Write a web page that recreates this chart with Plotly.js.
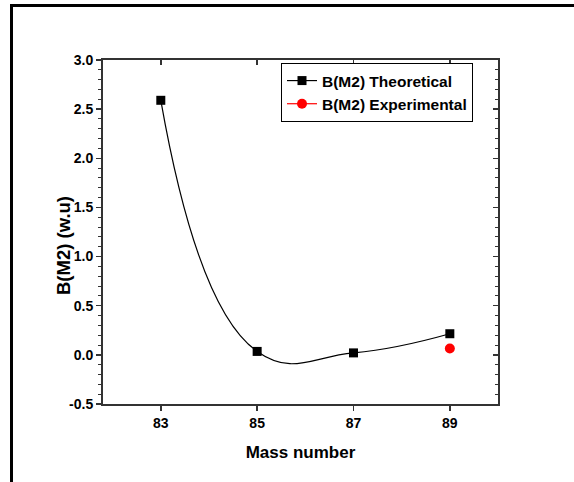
<!DOCTYPE html>
<html><head><meta charset="utf-8">
<script src="https://cdn.plot.ly/plotly-3.0.1.min.js"></script>
<style>html,body{margin:0;padding:0;background:#fff;}#c{width:574px;height:482px;}</style>
</head><body><div id="c"></div>
<script>
const massNumbers = [83, 85, 87, 89];
const theoretical = [2.59, 0.035, 0.02, 0.215];
const expMass = [89];
const experimental = [0.065];
const xTicks = [83, 85, 87, 89];
const yTicks = [-0.5, 0.0, 0.5, 1.0, 1.5, 2.0, 2.5, 3.0];
const yTickText = ['-0.5','0.0','0.5','1.0','1.5','2.0','2.5','3.0'];
const xTitle = 'Mass number';
const yTitle = 'B(M2) (w.u)';

const F = 'Liberation Sans, Arial, sans-serif';
const W = 574, H = 482, L = 103, R = 76, T = 60, B = 78;
const pw = W - L - R, ph = H - T - B;
const px = v => (v - L) / pw, py = v => 1 - (v - T) / ph;

const traces = [
  {x: massNumbers, y: theoretical, mode: 'lines+markers', name: 'B(M2) Theoretical',
   line: {color: '#000', width: 1.2, shape: 'spline', smoothing: 1.3},
   marker: {symbol: 'square', size: 9, color: '#000'}},
  {x: expMass, y: experimental, mode: 'lines+markers', name: 'B(M2) Experimental',
   line: {color: '#ff0000', width: 1.2},
   marker: {symbol: 'circle', size: 10, color: '#ff0000'}}
];

const xr = [81.8, 90.0], yr = [-0.5, 3.0];
const layout = {
  width: W, height: H,
  margin: {l: L, r: R, t: T, b: B, pad: 0},
  paper_bgcolor: '#fff', plot_bgcolor: '#fff',
  showlegend: true,
  font: {family: F, color: '#000'},
  xaxis: {range: xr, tickvals: xTicks, ticktext: xTicks.map(String), ticks: 'outside', ticklen: 5,
          tickwidth: 1.5, tickcolor: '#333', showgrid: false, zeroline: false,
          showline: true, linecolor: '#333', linewidth: 2, mirror: true,
          tickfont: {family: F, size: 14, weight: 'bold'},
          title: {text: '<b>' + xTitle + '</b>', font: {family: F, size: 17}, standoff: 16}},
  yaxis: {range: yr, tickvals: yTicks, ticktext: yTickText, ticks: 'outside', ticklen: 5,
          tickwidth: 1.5, tickcolor: '#333', showgrid: false, zeroline: false,
          showline: true, linecolor: '#333', linewidth: 2, mirror: true,
          minor: {dtick: 0.1, tick0: 0, ticks: 'outside', ticklen: 3, tickwidth: 1, tickcolor: '#333'},
          tickfont: {family: F, size: 14, weight: 'bold'}},
  xaxis2: {range: xr, overlaying: 'x', side: 'top', tickvals: xTicks, ticks: 'inside', ticklen: 5,
           tickwidth: 1.5, tickcolor: '#333', showticklabels: false, showgrid: false, zeroline: false, showline: false},
  yaxis2: {range: yr, overlaying: 'y', side: 'right', tickvals: yTicks, ticks: 'inside', ticklen: 5,
           tickwidth: 1.5, tickcolor: '#333', showticklabels: false, showgrid: false, zeroline: false, showline: false,
           minor: {dtick: 0.1, tick0: 0, ticks: 'inside', ticklen: 3, tickwidth: 1, tickcolor: '#333'}},
  legend: {x: px(281), y: py(63), xanchor: 'left', yanchor: 'top', bgcolor: '#fff',
           bordercolor: '#000', borderwidth: 1, tracegroupgap: 0,
           font: {family: F, size: 15.5, weight: 'bold'}, itemwidth: 30},
  annotations: [
    {text: '<b>' + yTitle + '</b>', xref: 'paper', yref: 'paper', x: px(63), y: py(246),
     xanchor: 'center', yanchor: 'middle', textangle: -90, showarrow: false,
     font: {family: F, size: 18.5, color: '#000'}}
  ],
  shapes: [
    {type: 'line', xref: 'paper', yref: 'paper', x0: px(11.5), x1: px(580), y0: py(5.5), y1: py(5.5), line: {color: '#000', width: 3}},
    {type: 'line', xref: 'paper', yref: 'paper', x0: px(11.5), x1: px(11.5), y0: py(4), y1: py(490), line: {color: '#000', width: 3}}
  ]
};
traces.push({x: [xr[0]], y: [yr[0]], xaxis: 'x2', yaxis: 'y2', mode: 'markers', marker: {opacity: 0}, showlegend: false, hoverinfo: 'skip'});
Plotly.newPlot('c', traces, layout, {displayModeBar: false, staticPlot: true});
</script></body></html>
